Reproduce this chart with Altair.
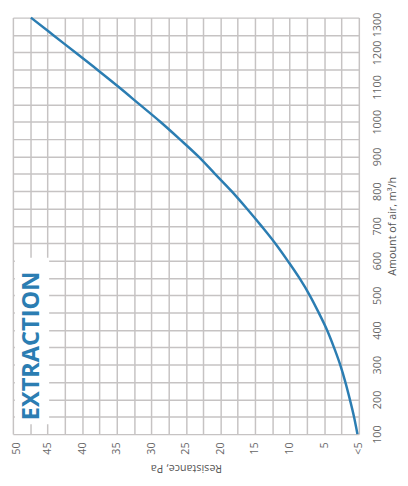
import altair as alt
import pandas as pd

# Data
airflow = [100, 150, 200, 250, 300, 350, 400, 450, 500, 550, 600, 650, 700,
           750, 800, 850, 900, 950, 1000, 1050, 1100, 1150, 1200, 1250, 1300]
resistance = [0.2, 0.7, 1.3, 1.95, 2.7, 3.6, 4.6, 5.8, 7.1, 8.6, 10.3, 12.1, 14.1,
              16.2, 18.4, 20.8, 23.2, 25.9, 28.7, 31.7, 34.7, 37.8, 41.0, 44.2, 47.4]

res_ticks = [0, 2.5, 5, 7.5, 10, 12.5, 15, 17.5, 20, 22.5, 25, 27.5, 30, 32.5,
             35, 37.5, 40, 42.5, 45, 47.5, 50]
air_ticks = [100, 150, 200, 250, 300, 350, 400, 450, 500, 550, 600, 650, 700,
             750, 800, 850, 900, 950, 1000, 1050, 1100, 1150, 1200, 1250, 1300]
lowest_label = "<5"
x_title = "Resistance, Pa"
y_title = "Amount of air, m³/h"
badge = ["EXTRACTION"]

BLUE = "#2b7db2"
GRID = "#c6c3c3"
FONT = "Open Sans"

df = pd.DataFrame({"air": airflow, "res": resistance})
badge_df = pd.DataFrame({"t": badge})

x_axis = alt.Axis(
    values=res_ticks, format="d",
    labelExpr=f"datum.value == 0 ? '{lowest_label}' : (datum.value % 5 == 0 ? datum.label : '')",
    labelAngle=270, labelAlign="right", labelBaseline="middle",
    labelOffset={"condition": {"test": "datum.value == 50", "value": 4}, "value": 0},
    labelFont=FONT, labelFontSize=11, labelColor="#666666", labelPadding=8,
    ticks=False, domain=False, grid=True, gridColor=GRID, gridWidth=1.5,
    title=x_title, titleAngle=180, titleBaseline="bottom", titleFont=FONT,
    titleFontSize=11, titleFontWeight="normal", titleColor="#555555", titlePadding=8,
)
y_axis = alt.Axis(
    orient="right", values=air_ticks, format="d",
    labelExpr="datum.value % 100 == 0 ? datum.label : ''",
    labelAngle=270, labelAlign="center", labelBaseline="top",
    labelOffset={"condition": {"test": "datum.value == 1300", "value": 7}, "value": 0},
    labelFont=FONT, labelFontSize=11, labelColor="#666666", labelPadding=13,
    ticks=False, domain=False, grid=True, gridColor=GRID, gridWidth=1.5,
    title=y_title, titleAngle=270, titleBaseline="top", titleFont=FONT,
    titleFontSize=11, titleFontWeight="normal", titleColor="#555555", titlePadding=4,
)

line = alt.Chart(df).mark_line(color=BLUE, strokeWidth=2.5, interpolate="monotone").encode(
    x=alt.X("res:Q", scale=alt.Scale(domain=[0, 50], reverse=True, nice=False, zero=False), axis=x_axis),
    y=alt.Y("air:Q", scale=alt.Scale(domain=[100, 1300], nice=False, zero=False), axis=y_axis),
    order="air:Q",
)

box = alt.Chart(badge_df).mark_rect(color="white").encode(
    x=alt.value(2), x2=alt.value(37), y=alt.value(245), y2=alt.value(415)
)
label = alt.Chart(badge_df).mark_text(
    angle=270, align="center", baseline="middle", font=FONT, fontSize=24,
    fontWeight="bold", color=BLUE
).encode(text="t:N", x=alt.value(20), y=alt.value(335))

chart = alt.layer(box, label, line).properties(
    width=353, height=425,
    autosize=alt.AutoSizeParams(type="none"),
    padding={"left": 5, "top": 5, "right": 42, "bottom": 42},
    background="white",
).configure_view(stroke=None)

chart.save("out.html", embed_options={"renderer": "svg", "actions": False})
